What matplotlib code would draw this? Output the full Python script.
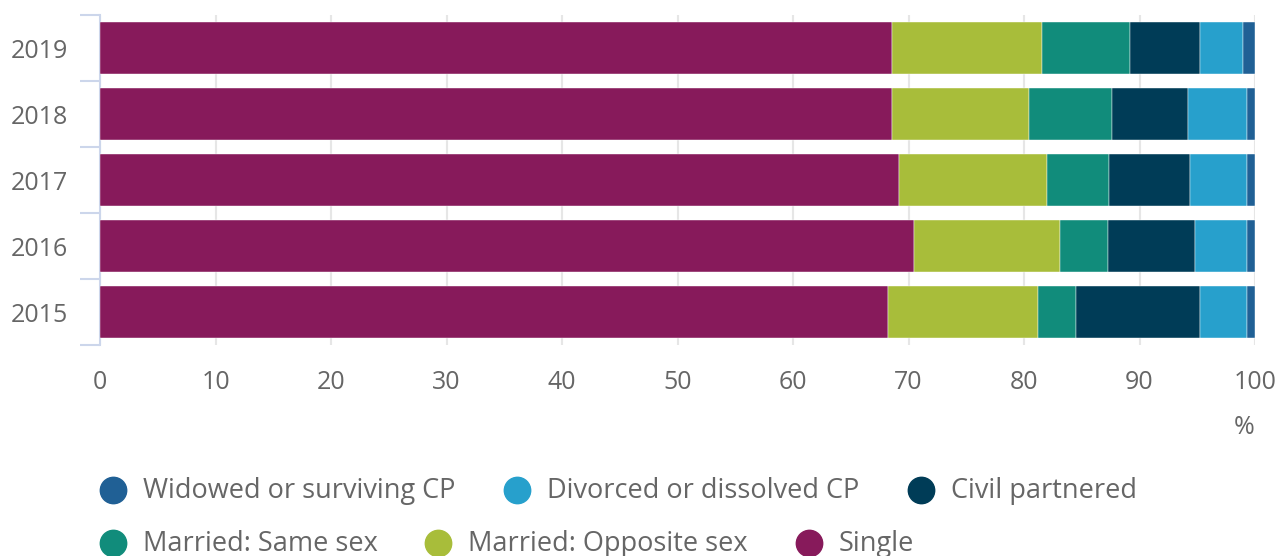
import matplotlib.pyplot as plt
from matplotlib.lines import Line2D

plt.rcParams['font.family'] = ['Open Sans', 'DejaVu Sans']

years = ["2015", "2016", "2017", "2018", "2019"]
single = [68.2, 70.5, 69.2, 68.6, 68.6]
married_opposite = [13.0, 12.6, 12.8, 11.8, 13.0]
married_same = [3.3, 4.2, 5.4, 7.2, 7.6]
civil = [10.7, 7.5, 7.0, 6.6, 6.0]
divorced = [4.1, 4.5, 4.9, 5.1, 3.8]
widowed = [0.7, 0.7, 0.7, 0.7, 1.0]

series = [
    ("Single", single, "#871a5b"),
    ("Married: Opposite sex", married_opposite, "#a8bd3a"),
    ("Married: Same sex", married_same, "#118c7b"),
    ("Civil partnered", civil, "#003c57"),
    ("Divorced or dissolved CP", divorced, "#27a0cc"),
    ("Widowed or surviving CP", widowed, "#206095"),
]

W, H = 1277, 556
fig = plt.figure(figsize=(W / 100, H / 100), dpi=100)
ax = fig.add_axes([100 / W, 1 - 345 / H, 1155 / W, 330 / H])

pos = list(range(len(years)))
left = [0] * len(years)
for name, vals, col in series:
    ax.barh(pos, vals, left=left, height=0.79, color=col, zorder=3,
            edgecolor="white", linewidth=0.3)
    left = [a + b for a, b in zip(left, vals)]

ax.set_xlim(0, 100)
ax.set_ylim(-0.5, len(years) - 0.5)
ax.set_xticks(range(0, 101, 10))
ax.grid(axis="x", color="#e6e6e6", linewidth=1.5, zorder=0)
for s in ["top", "right", "bottom"]:
    ax.spines[s].set_visible(False)
ax.spines["left"].set_color("#ccd6eb")
ax.spines["left"].set_linewidth(1.5)

ax.set_yticks(pos)
ax.set_yticklabels(years)
ax.set_yticks([p - 0.5 for p in pos] + [len(years) - 0.5], minor=True)
ax.tick_params(axis="y", which="major", length=0, pad=23, labelsize=18, labelcolor="#666666")
ax.tick_params(axis="y", which="minor", length=14.5, width=1.5, color="#ccd6eb")
ax.tick_params(axis="x", length=0, pad=18, labelsize=18, labelcolor="#666666")

fig.text(1244 / W, 1 - 427 / H, "%", ha="center", va="center", fontsize=18, color="#666666")

# legend, laid out like the original (two rows)
legend_items = [
    (113, 490, "Widowed or surviving CP", "#206095"),
    (517, 490, "Divorced or dissolved CP", "#27a0cc"),
    (921, 490, "Civil partnered", "#003c57"),
    (113, 543, "Married: Same sex", "#118c7b"),
    (438, 543, "Married: Opposite sex", "#a8bd3a"),
    (809, 543, "Single", "#871a5b"),
]
for x, y, label, col in legend_items:
    fig.add_artist(Line2D([x / W], [1 - y / H], marker="o", markersize=19,
                          color=col, linestyle="none", transform=fig.transFigure))
    fig.text((x + 30) / W, 1 - (y + 1) / H, label, ha="left", va="center",
             fontsize=19.5, color="#666666")

fig.savefig("out.png", dpi=100)
